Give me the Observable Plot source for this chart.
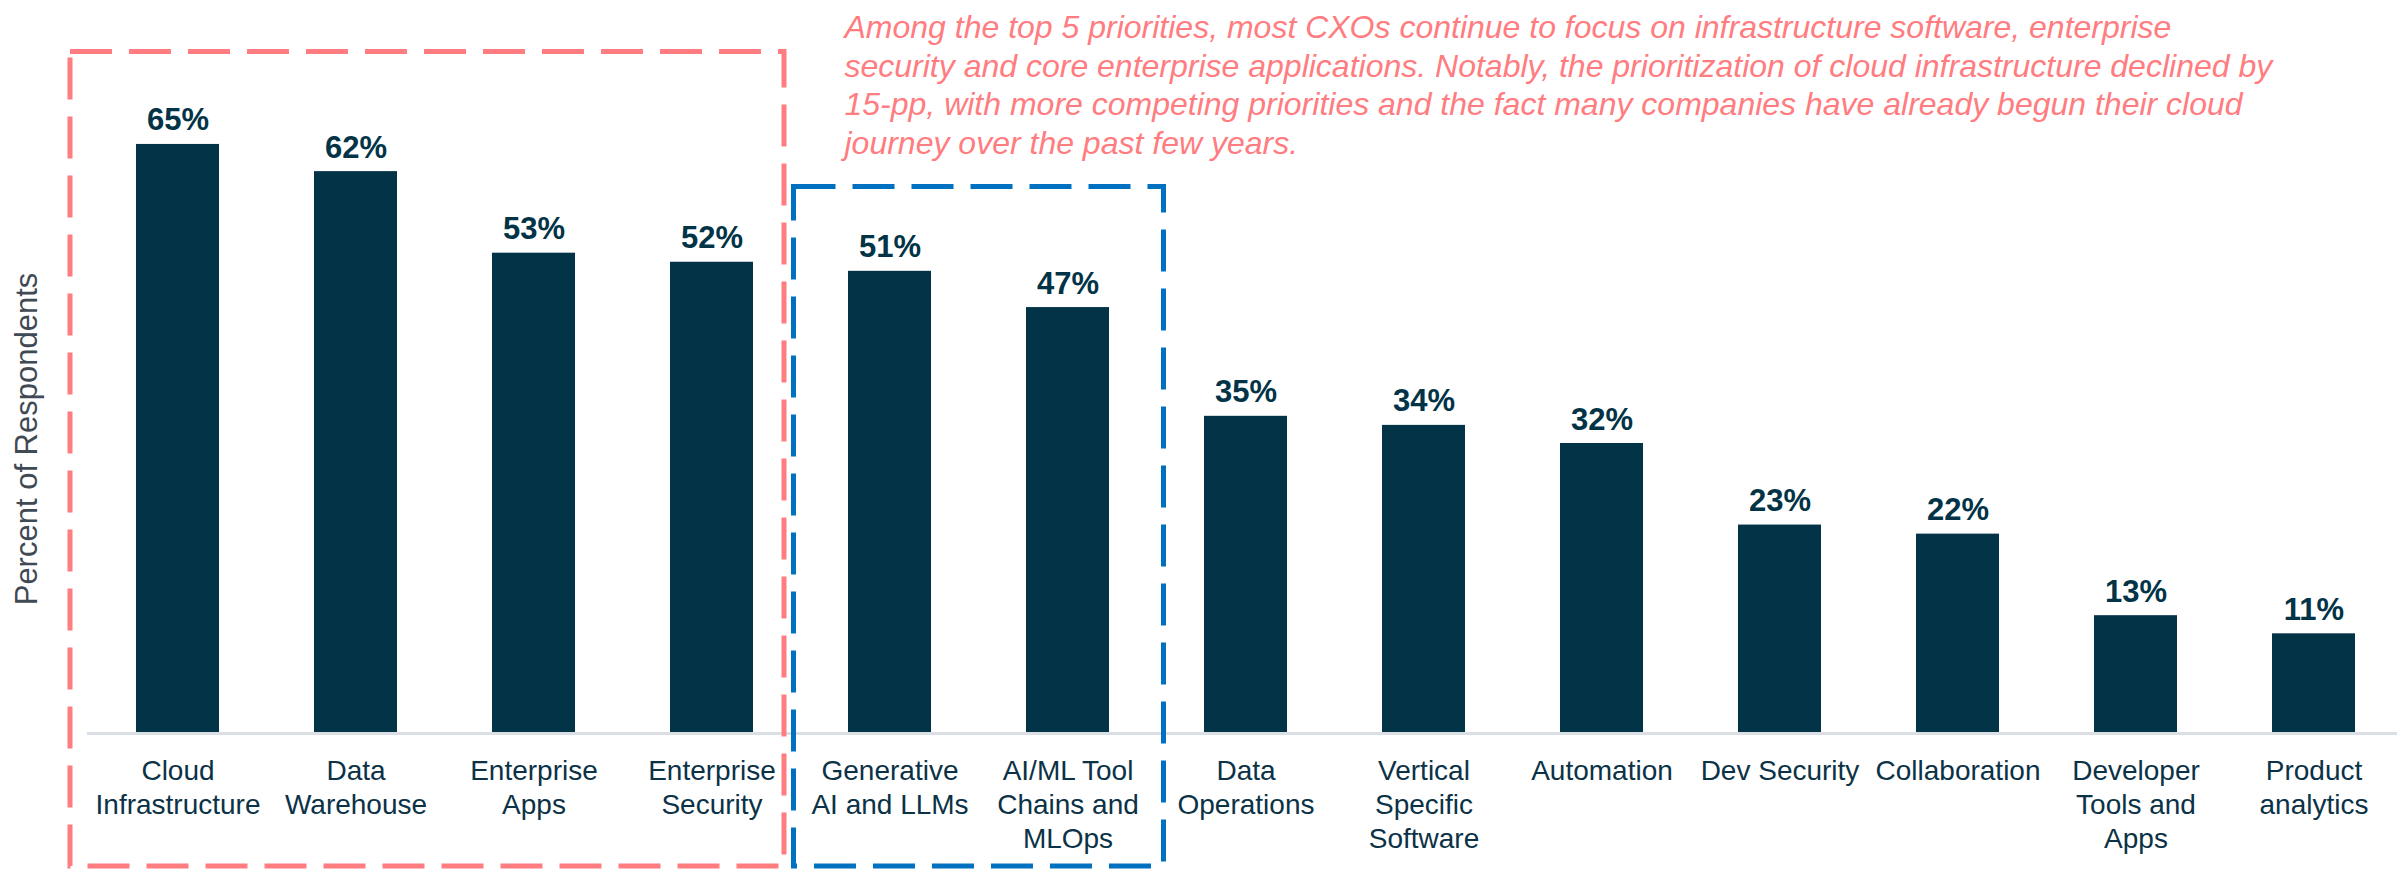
<!DOCTYPE html>
<html>
<head>
<meta charset="utf-8">
<script src="https://cdn.jsdelivr.net/npm/d3@7"></script>
<script src="https://cdn.jsdelivr.net/npm/@observablehq/plot@0.6"></script>
<style>
  html, body { margin: 0; padding: 0; background: #fff; overflow: hidden; }
  #chart { width: 2397px; height: 869px; }
</style>
</head>
<body>
<div id="chart"></div>
<script>
// ---- data ----
const categories = [
  "Cloud Infrastructure", "Data Warehouse", "Enterprise Apps", "Enterprise Security",
  "Generative AI and LLMs", "AI/ML Tool Chains and MLOps", "Data Operations",
  "Vertical Specific Software", "Automation", "Dev Security", "Collaboration",
  "Developer Tools and Apps", "Product analytics"
];
const values = [65, 62, 53, 52, 51, 47, 35, 34, 32, 23, 22, 13, 11];
const tickLabels = [
  "Cloud\nInfrastructure", "Data\nWarehouse", "Enterprise\nApps", "Enterprise\nSecurity",
  "Generative\nAI and LLMs", "AI/ML Tool\nChains and\nMLOps", "Data\nOperations",
  "Vertical\nSpecific\nSoftware", "Automation", "Dev Security", "Collaboration",
  "Developer\nTools and\nApps", "Product\nanalytics"
];
const yLabel = "Percent of Respondents";
const annotationLines = [
  "Among the top 5 priorities, most CXOs continue to focus on infrastructure software, enterprise",
  "security and core enterprise applications. Notably, the prioritization of cloud infrastructure declined by",
  "15-pp, with more competing priorities and the fact many companies have already begun their cloud",
  "journey over the past few years."
];
const groupFirst = ["Cloud Infrastructure", "Generative AI and LLMs"];
const groupLast = ["Enterprise Security", "AI/ML Tool Chains and MLOps"];
const groupTop = [75.2, 60.3];

// ---- build table ----
const data = categories.map((c, i) => ({category: c, value: values[i]}));
const labelOf = new Map(categories.map((c, i) => [c, tickLabels[i]]));

const BAR = "#023346";
const RED = "#FF7C80";
const BLUE = "#0070C0";

function groupBox(gi, color, padL, padR) {
  return (index, scales, values, dims) => {
    const x = scales.x, y = scales.y;
    const bw = x.bandwidth();
    const x1 = x(groupFirst[gi]) - padL;
    const x2 = x(groupLast[gi]) + bw + padR;
    const y1 = y(groupTop[gi]);
    const y2 = dims.height - 3;
    return d3.create("svg:rect")
      .attr("x", x1).attr("y", y1)
      .attr("width", x2 - x1).attr("height", y2 - y1)
      .attr("fill", "none")
      .attr("stroke", color)
      .attr("stroke-width", 5)
      .attr("stroke-dasharray", "42 17")
      .node();
  };
}

const chart = Plot.plot({
  width: 2397,
  height: 869,
  marginLeft: 87,
  marginRight: 0,
  marginTop: 8,
  marginBottom: 136,
  style: {fontFamily: "Arial, 'Liberation Sans', Helvetica, sans-serif", background: "#fff", overflow: "visible"},
  x: {domain: categories, range: [87, 2404], paddingInner: 0.535, paddingOuter: 0.2675, axis: null},
  y: {domain: [0, 80], axis: null},
  marks: [
    Plot.barY(data, {x: "category", y: "value", fill: BAR}),
    Plot.ruleY([0], {stroke: "#DADFE5", strokeWidth: 3}),
    Plot.text(data, {
      x: "category", y: "value", text: d => d.value + "%",
      lineAnchor: "bottom", dy: -14, fontWeight: "bold", fontSize: 31, fill: BAR
    }),
    Plot.axisX({
      tickSize: 0, tickPadding: 23, tickFormat: d => labelOf.get(d),
      fontSize: 28, lineHeight: 1.2, color: "#0B3246", label: null
    }),
    Plot.text([yLabel], {
      text: d => d, frameAnchor: "left", rotate: -90, dx: -60, dy: 68,
      textAnchor: "middle", lineAnchor: "middle", fontSize: 31, fill: "#3F4A54"
    }),
    Plot.text([annotationLines.join("\n")], {
      text: d => d, frameAnchor: "top-left", textAnchor: "start", lineAnchor: "top",
      dx: 757, dy: 2, fontStyle: "italic", fontSize: 32, lineHeight: 1.21, fill: RED
    }),
    groupBox(0, RED, 66, 31),
    groupBox(1, BLUE, 54.5, 54.5)
  ]
});
document.getElementById("chart").appendChild(chart);
</script>
</body>
</html>
